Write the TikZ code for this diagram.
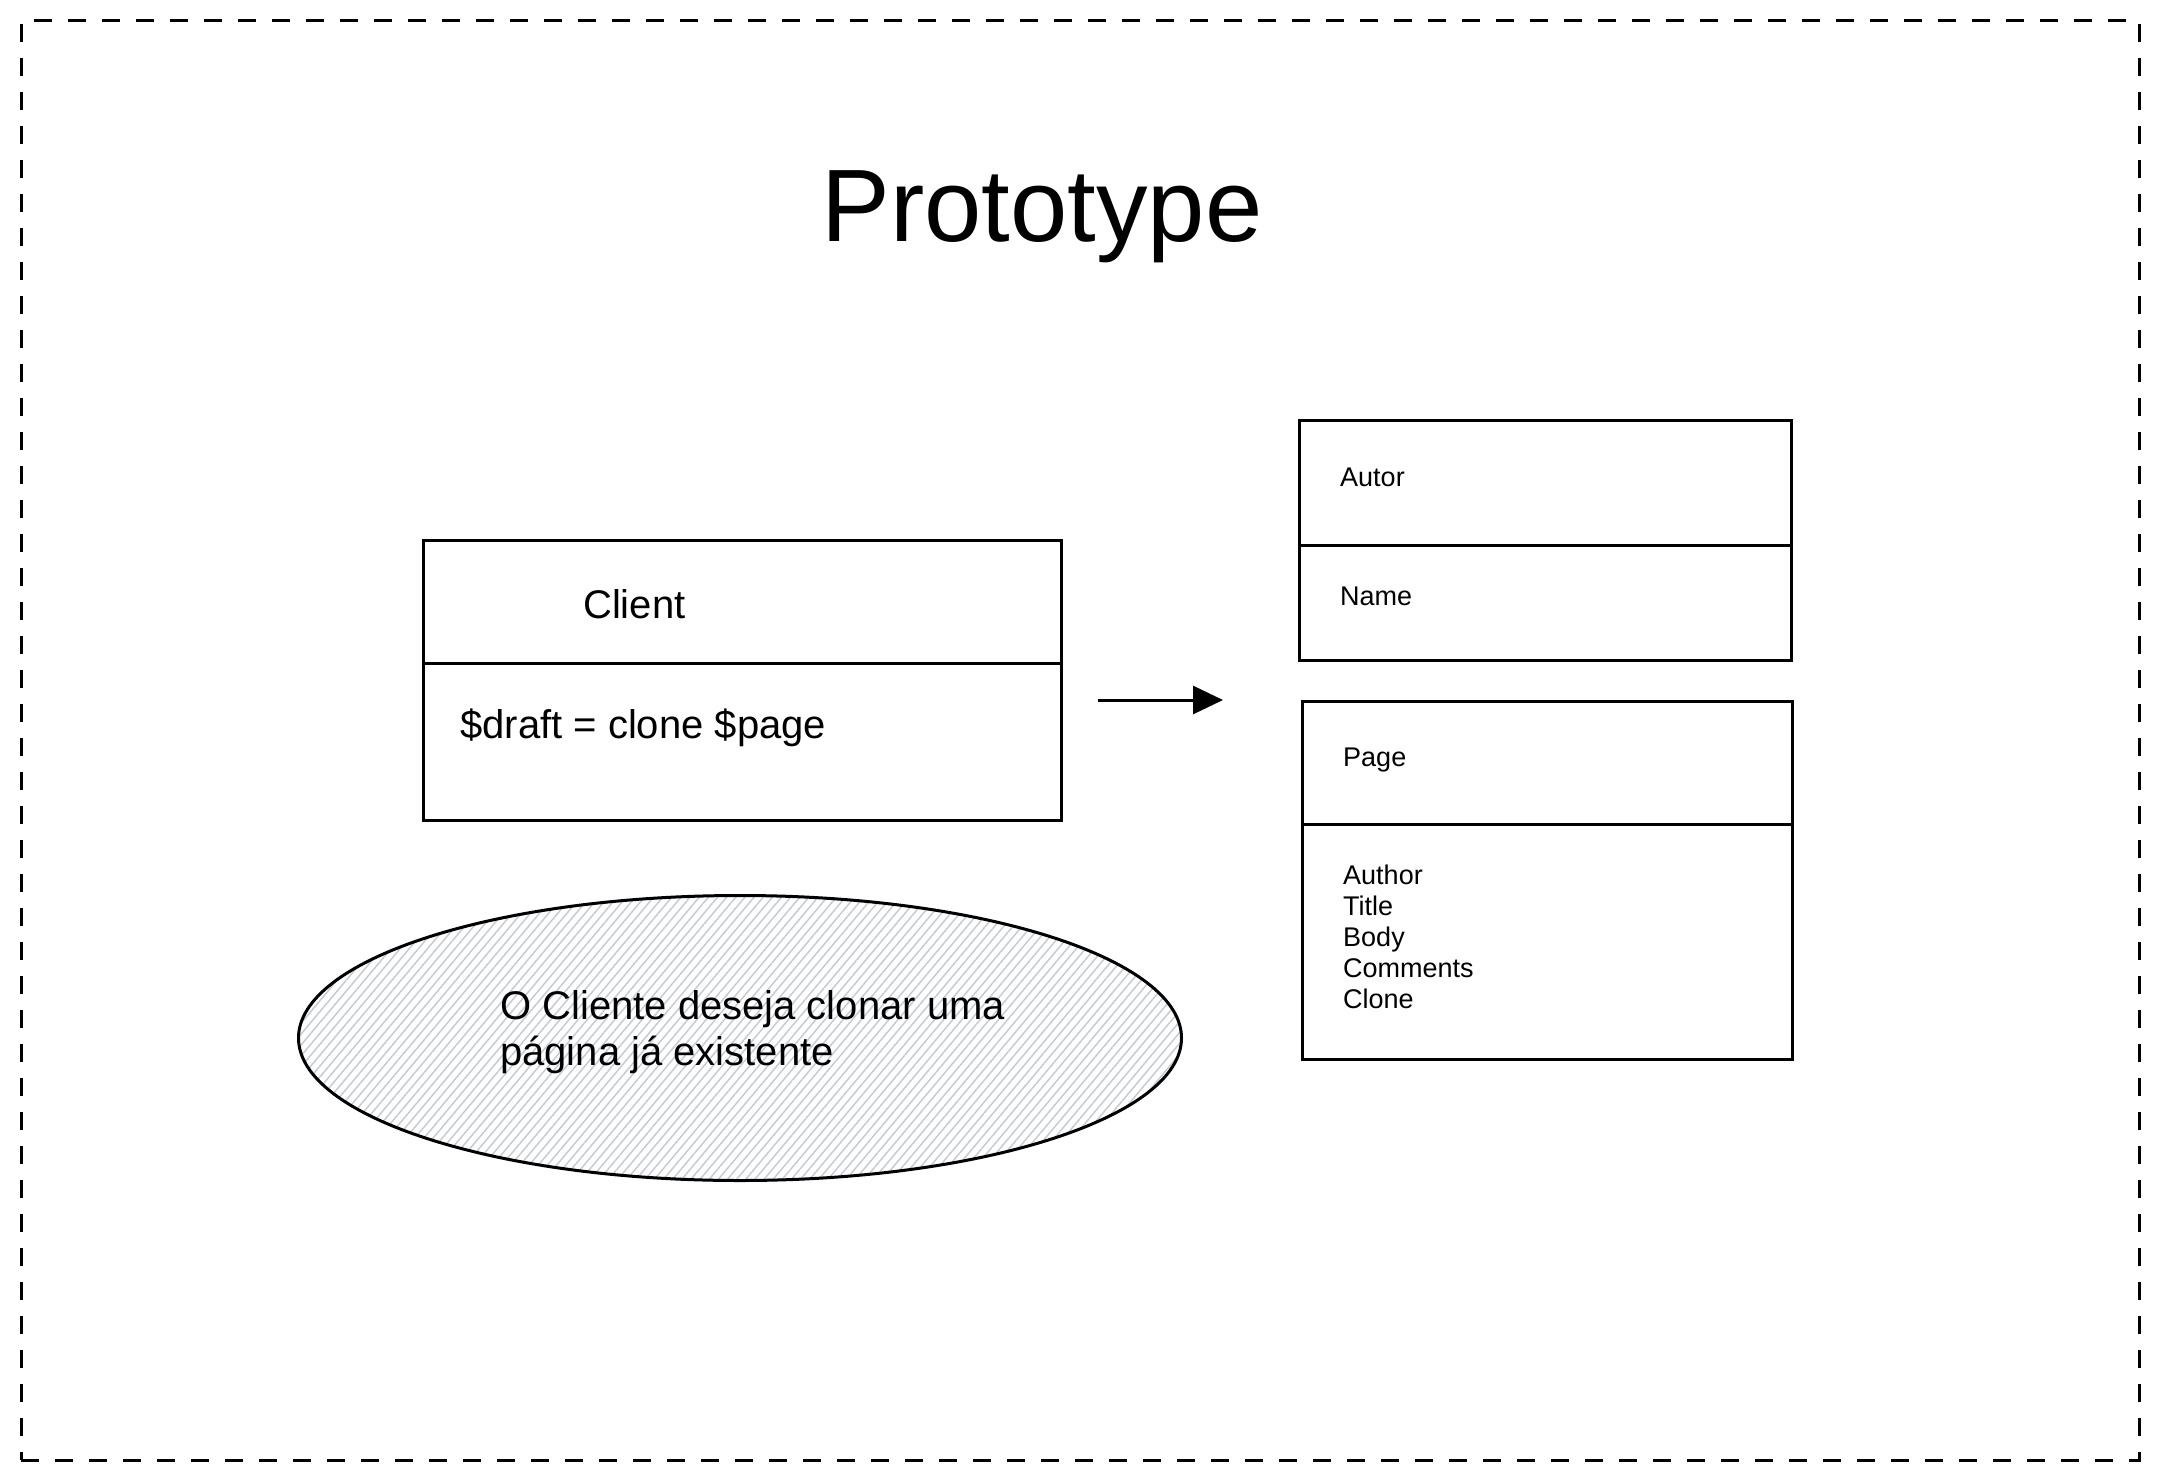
\documentclass[tikz,border=0pt]{standalone}
\usepackage{fontspec}
\setmainfont{Liberation Sans}
\usetikzlibrary{shapes.geometric,arrows.meta,patterns.meta,positioning}
\definecolor{hatch}{HTML}{C6CBD3}
\tikzstyle{frame} = [rectangle, draw=black, line width=3pt, dash pattern=on 18pt off 16pt, inner sep=0pt]
\tikzstyle{part} = [rectangle, draw=black, line width=3pt, inner sep=0pt, outer sep=0pt]
\tikzstyle{txt} = [anchor=base west, inner sep=0pt, align=left, font=\fontsize{27}{31}\selectfont]
\tikzstyle{bigtxt} = [txt, font=\fontsize{40}{46}\selectfont]
\tikzstyle{wish} = [ellipse, draw=black, line width=3pt, inner sep=0pt, pattern={Lines[angle=50,distance=7pt,line width=1.5pt]}, pattern color=hatch]
\tikzstyle{arrow} = [line width=3pt, -{Triangle[length=30pt,width=28pt]}]

\begin{document}
\begin{tikzpicture}[x=1pt, y=-1pt]
\useasboundingbox (0,0) rectangle (2160,1480);
\node (frame)[frame, minimum width=2118pt, minimum height=1439pt] at (1080,740.5) {};
\node (title)[anchor=base, inner sep=0pt, font=\fontsize{103}{118}\selectfont] at (1042,241) {Prototype};

% client
\node (clientHead)[part, minimum width=638pt, minimum height=123pt] at (742,601.5) {};
\node (clientBody)[part, below=0pt of clientHead, minimum width=638pt, minimum height=157pt] {};
\node (clientTxt)[bigtxt] at (583,618) {Client};
\node (cloneTxt)[bigtxt] at (460,738) {\$draft = clone \$page};

\node (wish)[wish, minimum width=883pt, minimum height=285pt] at (740,1038) {};
\node (wishTxt)[bigtxt] at (500,1065) {O Cliente deseja clonar uma\\página já existente};

\coordinate (arrowTail) at (1098,700);
\coordinate (arrowHead) at (1223,700);
\draw [arrow](arrowTail) -- (arrowHead);

% prototypes
\node (autorBox)[part, minimum width=492pt, minimum height=125pt] at (1545,482.5) {};
\node (nameBox)[part, below=0pt of autorBox, minimum width=492pt, minimum height=115pt] {};
\node (autorTxt)[txt] at (1340,486) {Autor};
\node (nameTxt)[txt] at (1340,605) {Name};

\node (pageHead)[part, minimum width=490pt, minimum height=123pt] at (1547,762.5) {};
\node (pageBody)[part, below=0pt of pageHead, minimum width=490pt, minimum height=235pt] {};
\node (pageTxt)[txt] at (1343,766) {Page};
\node (fieldsTxt)[txt] at (1343,1008) {Author\\Title\\Body\\Comments\\Clone};
\end{tikzpicture}
\end{document}
